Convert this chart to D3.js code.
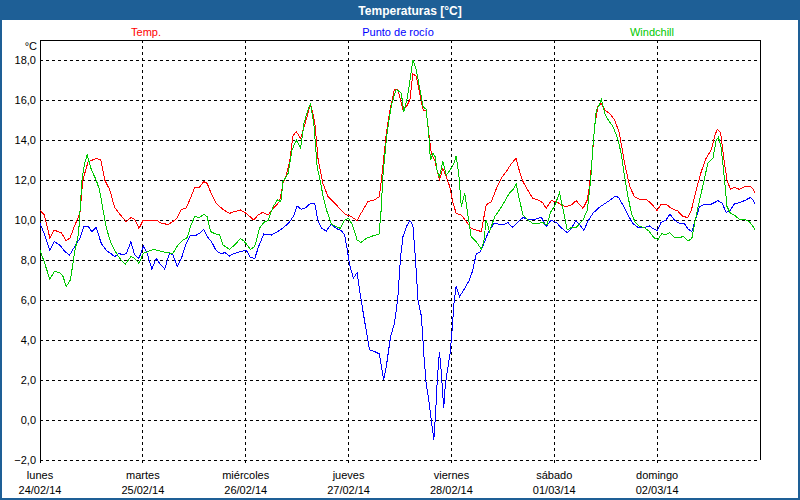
<!DOCTYPE html>
<html>
<head>
<meta charset="utf-8">
<script src="https://cdn.jsdelivr.net/npm/d3@7"></script>
<style>
  html, body { margin: 0; padding: 0; background: #ffffff; }
  svg { display: block; }
  text { font-family: "Liberation Sans", Arial, sans-serif; }
</style>
</head>
<body>
<svg id="chart" width="800" height="500"></svg>
<script>
// ---------- DATA (hours from 24/02/14 00:00, °C) ----------
const chartTitle = "Temperaturas [°C]";
const seriesNames = ["Temp.", "Punto de rocío", "Windchill"];
const dayNames = ["lunes", "martes", "miércoles", "jueves", "viernes", "sábado", "domingo"];
const dayDates = ["24/02/14", "25/02/14", "26/02/14", "27/02/14", "28/02/14", "01/03/14", "02/03/14"];
const yTicks = [-2, 0, 2, 4, 6, 8, 10, 12, 14, 16, 18];

const tempHours = [0,1.0,2.3,3.3,5,6.1,7,8,9.3,10,11.2,13.1,14.2,15.1,16.3,17.4,18.6,20.1,21.3,22.1,23.1,24.1,25.6,27.1,28.3,29.9,31.0,31.8,33,34.1,35.2,36.1,37.2,38.2,39,40,41.1,42.7,44.2,45.4,46.8,48.1,49.9,50.9,51.9,53.2,54.8,55.9,56.7,57.5,58.3,59.0,59.8,60.8,62.2,63.1,64.1,64.9,66,67.2,68.4,69.5,71.1,72.6,74,74.9,76.5,78,79.2,80,80.8,81.6,82.7,83.5,84.7,85.5,86.3,87,87.8,88.6,89.4,90.1,90.9,91.3,92.1,92.9,93.2,94,94.8,95.6,96.3,97.1,98.3,99.5,100.6,101.8,103,103.6,104.1,105.3,106.5,107.6,108.8,110,111.1,111.9,112.7,113.8,115,116.2,117.3,118.1,119.3,120.5,121.6,122.8,124,125.1,126.7,127.7,128.2,128.8,129.4,130.2,131,131.8,132.9,134.1,135.2,136.4,137.6,138.7,139.9,141.4,142.6,144,144.9,146.1,147.3,148.8,150,151.2,152,153.1,154.3,155.4,156.6,157.4,158,158.8,159.6,160.3,161.1,162,163.2,164.4,165.5,166.3,166.8];
const tempValues = [10.5,10.25,9.1,9.5,9.35,8.97,9.1,9.67,10.33,12.0,12.9,13.08,13.0,12.0,11.5,10.63,10.3,9.92,10.13,10.03,9.58,10.0,9.97,10.0,9.83,9.78,9.92,10.05,10.53,10.6,11.13,11.63,11.63,11.92,11.83,11.3,10.83,10.53,10.33,10.42,10.5,10.33,10.0,10.25,10.38,10.25,10.67,10.92,11.83,12.25,13.0,14.2,14.42,14.08,15.08,15.83,14.92,13.0,11.83,11.17,10.92,10.67,10.3,10.17,9.97,10.33,10.92,11.0,11.17,12.67,14.33,15.42,16.53,16.5,15.53,15.67,16.0,17.3,17.2,16.33,15.5,15.5,14.0,13.33,13.0,12.25,12.0,12.58,12.17,11.67,10.92,10.33,10.25,9.92,9.58,9.5,9.42,10.17,10.75,10.92,11.58,12.08,12.42,12.83,13.08,12.42,11.92,11.5,11.08,11.0,10.87,10.58,10.97,10.92,10.75,10.67,10.75,10.97,10.58,11.0,11.67,13.0,14.67,15.7,15.83,15.5,15.33,15.0,14.33,12.83,11.67,11.17,11.03,11.03,10.83,10.47,10.8,10.8,10.58,10.45,10.17,10.13,10.5,11.5,12.42,13.08,13.5,14.17,14.53,14.37,13.0,12.0,11.53,11.63,11.53,11.67,11.7,11.58,11.37];

const dewHours = [0,1.1,2.3,3.3,4.6,5.8,6.9,8.1,9.3,10.3,11.2,12.1,13.1,14.3,15.5,16.5,17.4,18.4,19.4,20.2,21.2,22.1,23.1,24.1,25,26.1,27.1,28.2,29.1,30.2,31,32,33,34.1,35.1,36.5,37.2,38.2,39,40,41.1,42.3,43.1,44.2,45.4,47,48.1,49.1,50.1,51,52.2,54,55.5,57.1,58.3,59.3,60,61,62.1,63.1,64.1,64.9,65.7,66.8,68,69.1,70.3,71.1,71.7,72.2,73.1,74,74.8,75.7,76.9,78.1,79.2,80.2,80.8,81.8,82.7,83.5,84.1,84.7,85.5,86.3,87,87.6,88.2,89,89.6,90.1,90.7,91.3,91.9,92.3,92.7,93.2,93.6,94.2,94.6,95.2,95.7,96.1,96.6,97.1,97.9,99.1,100.2,101,101.8,102.6,103.6,104.5,105.9,106.8,108,109.2,110.2,111.4,112.7,113.8,115,116.2,117,118.1,119.3,120.5,121.6,123,124,125,126.3,126.9,127.8,129,130.2,131.3,132.9,134.2,135,136,137.2,138.3,139.5,141,142.2,143,144,144.9,146.1,147,148,149.2,150.4,151.3,152.1,152.9,153.9,155.1,156.2,157,158.2,159.2,160.1,161.1,162,163.2,164.4,165.8,166.3,166.8];
const dewValues = [9.83,9.25,8.47,8.92,8.75,8.42,8.25,8.67,9.08,9.7,9.7,9.42,9.63,8.83,8.47,8.33,8.17,8.33,8.25,8.33,8.92,8.25,8.08,8.7,8.33,7.55,8.08,7.75,7.55,8.33,8.28,7.67,8.08,8.83,9.25,9.25,9.33,9.53,9.17,8.92,8.47,8.3,8.38,8.2,8.33,8.43,8.5,8.13,8.07,8.67,9.3,9.25,9.42,9.67,9.92,10.25,10.7,10.53,10.63,10.83,10.83,9.92,9.58,9.45,9.8,9.58,9.47,9.25,8.5,7.83,7.08,7.37,6.17,5.0,3.5,3.42,3.3,2.0,2.67,4.17,4.83,6.1,8.08,9.17,9.67,9.97,9.75,8.08,6.0,5.17,3.17,1.83,1.0,0.0,-1.0,0.33,2.0,3.42,2.5,0.58,1.83,2.67,3.33,4.33,5.83,6.7,6.17,6.58,7.0,7.5,8.33,8.38,8.83,9.33,9.83,9.8,9.75,9.87,9.63,9.87,10.13,10.03,10.0,10.08,10.13,9.67,10.0,9.87,9.62,9.37,9.58,9.97,9.67,9.47,9.92,10.33,10.58,10.75,10.97,11.2,11.13,10.75,10.25,9.83,9.63,9.63,9.7,9.58,9.47,9.87,10.0,10.3,10.0,9.83,9.8,9.53,9.42,10.0,10.67,10.78,10.75,10.83,10.97,10.83,10.37,10.5,10.8,10.87,10.97,11.13,11.03,10.8];

const chillHours = [0,1.1,2.3,3.3,4.6,5.4,6.1,7.1,8.1,9,9.8,10.4,11,12,13.1,13.9,14.7,15.5,16.6,17.6,18.6,19.9,21.2,22.1,23.1,24.1,25.2,26.4,27.9,29.5,31,32.2,33.4,34.4,35.1,36.1,37.2,38.2,39,39.8,40.7,41.9,42.7,44.2,45.4,46.8,47.7,49.1,50.1,51.2,52.4,53.2,54.4,55.4,56.2,56.7,57.9,58.8,59.8,60.8,61.6,62.5,63.1,63.9,64.7,65.2,66,66.8,68,69.1,70.1,71.1,72,72.9,74,74.9,76.1,77.6,79.1,79.6,80,80.8,81.3,82.1,83.1,83.9,84.3,84.9,85.7,86.5,87,87.8,88.6,89.4,90.1,90.7,91.1,91.7,92.2,92.7,93.2,94,94.8,95.6,96.6,97.1,97.7,98.3,99.1,99.9,100.6,101.8,103,103.6,104.1,104.9,106.1,107.2,108.4,109.6,110.4,111.1,111.7,112.7,113.8,115,116.2,117.3,118.3,119.1,120.2,121.2,122,123,124,125.1,126.7,127.7,128.5,129,129.8,130.5,131,131.8,132.5,133.7,134.8,135.6,136.4,137.2,138,138.9,139.9,141,142.2,143.4,144.2,145.1,145.9,146.9,148,149.2,150.2,151.2,152.1,152.9,153.9,154.9,155.8,157,157.8,158.3,158.9,159.7,160.3,161.1,162,163.2,164.4,165.5,166.3,166.8];
const chillValues = [8.5,7.83,7.03,7.42,7.38,7.17,6.67,7.0,8.42,9.33,12.0,12.83,13.25,12.5,12.0,11.5,10.5,9.58,8.83,8.42,8.08,7.8,8.17,8.08,7.83,8.33,8.42,8.53,8.45,8.37,8.33,8.75,9.0,9.13,9.67,10.17,10.13,10.28,10.17,9.42,9.33,9.25,8.75,8.53,8.75,9.08,8.92,8.53,8.67,9.58,9.92,9.97,10.67,11.0,10.92,11.92,12.33,13.5,14.0,13.58,14.83,15.5,15.8,14.83,12.58,12.17,11.25,10.53,9.8,9.67,9.58,10.0,10.08,9.75,9.0,8.88,9.08,9.2,9.3,10.5,12.17,14.0,14.83,15.83,16.53,16.42,16.33,15.42,16.08,17.25,18.0,17.5,16.58,15.67,15.53,14.33,13.0,13.33,13.17,12.42,12.17,12.92,12.25,12.47,12.83,13.2,12.33,10.67,11.33,10.17,9.17,8.92,8.53,9.0,10.0,9.42,10.17,10.5,10.92,11.37,11.53,11.83,11.17,10.25,10.0,9.83,9.83,9.87,9.75,10.37,10.75,11.37,10.58,9.5,9.63,9.63,10.0,10.5,12.0,13.67,15.5,15.75,16.03,15.33,15.03,14.67,14.08,13.33,12.17,11.17,10.33,9.87,9.67,9.63,9.42,9.08,9.03,9.33,9.25,9.37,9.13,9.13,9.17,8.95,9.08,10.0,11.0,11.92,12.83,13.08,14.0,14.13,13.67,12.08,10.67,10.33,10.25,10.03,10.03,9.92,9.7,9.53];

const seriesColors = ["#ff0000", "#0000ff", "#00c800"];

// ---------- DRAW ----------
const W = 800, H = 500;
const svg = d3.select("#chart");
const frameColor = "#1e5f96";

const x = d3.scaleLinear().domain([0, 168]).range([40, 760]);
const y = d3.scaleLinear().domain([-2, 19]).range([460, 40]);

// window background and frame
svg.append("rect").attr("x", 0).attr("y", 0).attr("width", W).attr("height", H).attr("fill", "#ffffff");
svg.append("rect").attr("x", 0).attr("y", 0).attr("width", W).attr("height", 20).attr("fill", frameColor);
svg.append("rect").attr("x", 0.5).attr("y", 0.5).attr("width", W - 1).attr("height", H - 1)
  .attr("fill", "none").attr("stroke", frameColor).attr("stroke-width", 1);
svg.append("rect").attr("x", 1.5).attr("y", 1.5).attr("width", W - 3).attr("height", H - 3)
  .attr("fill", "none").attr("stroke", frameColor).attr("stroke-width", 1);

svg.append("text").attr("x", 410).attr("y", 14.5).attr("text-anchor", "middle")
  .attr("fill", "#ffffff").attr("font-weight", "bold").attr("font-size", 12).text(chartTitle);

// legend
const legendX = [146, 398, 652];
seriesNames.forEach((n, i) => {
  svg.append("text").attr("x", legendX[i]).attr("y", 36).attr("text-anchor", "middle")
    .attr("font-size", 11).attr("fill", seriesColors[i]).text(n);
});

// horizontal gridlines
const grid = svg.append("g").attr("shape-rendering", "crispEdges");
yTicks.forEach(v => {
  grid.append("line").attr("x1", 40).attr("x2", 760).attr("y1", y(v)).attr("y2", y(v))
    .attr("stroke", "#000").attr("stroke-dasharray", "3,3");
});
// vertical day gridlines
dayNames.forEach((d, i) => {
  if (i === 0) return;
  grid.append("line").attr("x1", x(i * 24)).attr("x2", x(i * 24)).attr("y1", 40).attr("y2", 464)
    .attr("stroke", "#000").attr("stroke-dasharray", "3,3");
});

// y axis labels via d3 axis
const yAxis = d3.axisLeft(y).tickValues(yTicks).tickSize(0).tickPadding(4)
  .tickFormat(v => d3.format(".1f")(v).replace(".", ","));
const yg = svg.append("g").attr("transform", "translate(40,0)").call(yAxis);
yg.select(".domain").remove();
yg.selectAll("text").attr("font-size", 11).attr("fill", "#000")
  .attr("font-family", "'Liberation Sans', Arial, sans-serif");

svg.append("text").attr("x", 37).attr("y", 50).attr("text-anchor", "end")
  .attr("font-size", 11).attr("fill", "#000").text("°C");

// x axis labels
const xg = svg.append("g");
dayNames.forEach((d, i) => {
  xg.append("text").attr("x", x(i * 24)).attr("y", 479).attr("text-anchor", "middle")
    .attr("font-size", 11).attr("fill", "#000").text(d);
  xg.append("text").attr("x", x(i * 24)).attr("y", 494).attr("text-anchor", "middle")
    .attr("font-size", 11).attr("fill", "#000").text(dayDates[i]);
});

// plot frame (top, left, right solid)
const frame = svg.append("g").attr("shape-rendering", "crispEdges").attr("stroke", "#000").attr("fill", "none");
frame.append("path").attr("d", `M40,463 L40,40 L760,40 L760,460`);

// series
const series = [
  {h: tempHours, v: tempValues, c: seriesColors[0]},
  {h: dewHours, v: dewValues, c: seriesColors[1]},
  {h: chillHours, v: chillValues, c: seriesColors[2]}
];
const line = d3.line().x(d => x(d[0])).y(d => y(d[1]));
series.forEach(s => {
  const pts = s.h.map((t, i) => [t, s.v[i]]);
  svg.append("path").datum(pts).attr("d", line).attr("fill", "none")
    .attr("stroke", s.c).attr("stroke-width", 1).attr("shape-rendering", "crispEdges");
});
</script>
</body>
</html>
